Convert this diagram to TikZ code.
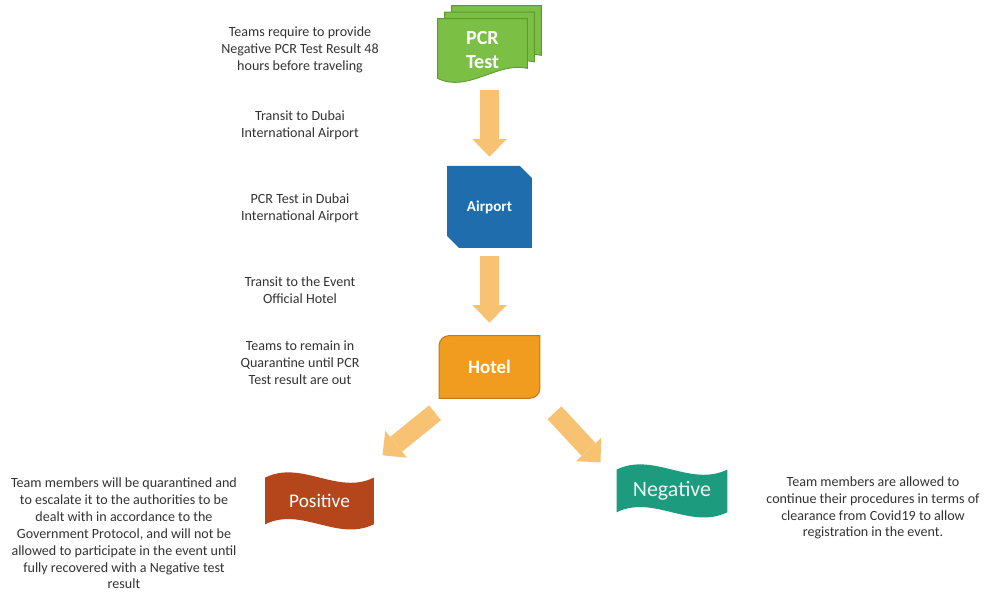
\documentclass[tikz,border=0pt]{standalone}
\usepackage{fontspec}
\setmainfont{Carlito}
\usetikzlibrary{arrows.meta,positioning,calc,backgrounds,shapes.misc}

\definecolor{pcrgreen}{HTML}{7BBF45}
\definecolor{pcredge}{HTML}{5E9A30}
\definecolor{airblue}{HTML}{1F6DAD}
\definecolor{hotelorange}{HTML}{F29C1F}
\definecolor{hoteledge}{HTML}{C47817}
\definecolor{flowc}{HTML}{F7C272}
\definecolor{posred}{HTML}{B5461B}
\definecolor{neggreen}{HTML}{1C9B7E}
\definecolor{notegray}{HTML}{333333}

\begin{document}
\begin{tikzpicture}[x=0.02cm,y=-0.02cm,on grid,
   notetext/.style={align=center,inner sep=0pt,text=notegray,font=\fontsize{8}{9.6}\selectfont},
   stage/.style={inner sep=0pt,align=center,text=white},
   sheet/.style={fill=pcrgreen,draw=pcredge,line width=0.5pt},
   flowarrow/.style={draw=flowc,line width=0.38cm,-{Triangle[width=0.69cm,length=0.35cm,line width=0pt]}}]
   \useasboundingbox (0,0) rectangle (991,593);
   % steps
   \node[stage,minimum width=1.78cm,minimum height=1.24cm,font=\fontsize{11.4}{13.7}\selectfont\bfseries] (pcr) at (482.5,50) {PCR\\Test};
   \node[stage,chamfered rectangle,chamfered rectangle corners={north east,south west},chamfered rectangle xsep=0.28cm,
         fill=airblue,minimum width=1.7cm,minimum height=1.64cm,font=\fontsize{8.6}{10}\selectfont\bfseries] (airport) [below=3.14cm of pcr,xshift=0.14cm] {Airport};
   \node[stage,minimum width=2cm,minimum height=1.24cm,font=\fontsize{10.8}{13}\selectfont\bfseries] (hotel) [below=3.2cm of airport] {Hotel};
   \node[stage,minimum width=2.16cm,minimum height=1.16cm,font=\fontsize{11}{13}\selectfont] (positive) [below left=2.68cm and 3.4cm of hotel] {Positive};
   \node[stage,minimum width=2.2cm,minimum height=1.08cm,text=white!90!neggreen,font=\fontsize{12.5}{15}\selectfont] (negative) [below right=2.48cm and 3.65cm of hotel] {Negative};
   % notes
   \node[notetext] (ask) at (300,50) {Teams require to provide\\Negative PCR Test Result 48\\hours before traveling};
   \node[notetext] (toair) at (300,125.5) {Transit to Dubai\\International Airport};
   \node[notetext] (airtest) at (300,208.5) {PCR Test in Dubai\\International Airport};
   \node[notetext] (tohotel) at (300,290.5) {Transit to the Event\\Official Hotel};
   \node[notetext] (wait) at (300,363) {Teams to remain in\\Quarantine until PCR\\Test result are out};
   \node[notetext] (posnote) at (124,533.5) {Team members will be quarantined and\\to escalate it to the authorities to be\\dealt with in accordance to the\\Government Protocol, and will not be\\allowed to participate in the event until\\fully recovered with a Negative test\\result};
   \node[notetext] (negnote) at (873,508) {Team members are allowed to\\continue their procedures in terms of\\clearance from Covid19 to allow\\registration in the event.};
   % arrows
   \draw[flowarrow,shorten <=0.18cm,shorten >=0.18cm] (pcr.south -| airport.north) -- (airport.north);
   \draw[flowarrow,shorten <=0.16cm,shorten >=0.26cm] (airport.south) -- (hotel.north);
   \draw[flowarrow] ($(hotel.south)+(-54.5,14.5)$) -- ($(hotel.south)+(-107,57)$);
   \draw[flowarrow] ($(hotel.south)+(65,14.5)$) -- ($(hotel.south)+(111,64)$);
   % shapes behind the steps
   \begin{scope}[on background layer]
      \foreach \dx/\dy in {14/-13,7/-6.5,0/0}
         \path[sheet] ($(pcr.north west)+(\dx,\dy)$) -- ($(pcr.north east)+(\dx,\dy)$) -- ($(pcr.south east)+(\dx,\dy-13)$)
            .. controls ($(pcr.south east)+(\dx-30,\dy-20)$) and ($(pcr.south west)+(\dx+30,\dy+12)$) .. ($(pcr.south west)+(\dx,\dy-3)$) -- cycle;
      \path[fill=hotelorange,draw=hoteledge,line width=0.6pt] (hotel.south west) -- ($(hotel.north west)+(0,10)$)
         arc[start angle=180,end angle=270,radius=10] -- (hotel.north east) -- ($(hotel.south east)+(0,-10)$)
         arc[start angle=0,end angle=90,radius=10] -- cycle;
      \foreach \n/\c in {positive/posred,negative/neggreen}
         \fill[\c] ($(\n.north west)+(0,6)$) .. controls ($(\n.north west)!1/3!(\n.north east)+(0,-12)$) and ($(\n.north west)!2/3!(\n.north east)+(0,24)$) .. ($(\n.north east)+(0,6)$)
            -- ($(\n.south east)+(0,-6)$) .. controls ($(\n.south west)!2/3!(\n.south east)+(0,12)$) and ($(\n.south west)!1/3!(\n.south east)+(0,-24)$) .. ($(\n.south west)+(0,-6)$) -- cycle;
   \end{scope}
\end{tikzpicture}
\end{document}
